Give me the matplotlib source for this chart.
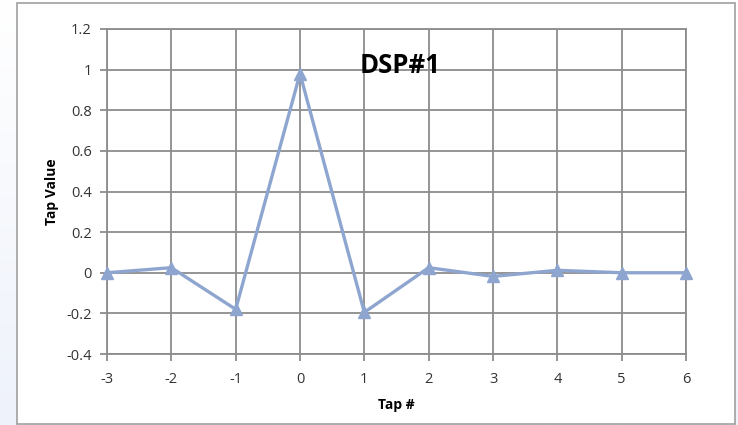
import numpy as np
import matplotlib.pyplot as plt
from matplotlib.patches import Rectangle

taps = [-3, -2, -1, 0, 1, 2, 3, 4, 5, 6]
x_labels = ['-3', '-2', '-1', '0', '1', '2', '3', '4', '5', '6']
tap_values = [0.0, 0.025, -0.18, 0.98, -0.195, 0.025, -0.018, 0.012, 0.0, 0.0]
y_ticks = [-0.4, -0.2, 0, 0.2, 0.4, 0.6, 0.8, 1, 1.2]
y_labels = ['-0.4', '-0.2', '0', '0.2', '0.4', '0.6', '0.8', '1', '1.2']

plt.rcParams['font.family'] = ['Open Sans', 'DejaVu Sans']

fig = plt.figure(figsize=(7.38, 4.25), dpi=100)

# fond dégradé bleuté derrière le cadre
bg = fig.add_axes([0, 0, 1, 1], zorder=-10)
grad = np.linspace(0, 1, 200).reshape(-1, 1)
bg.imshow(grad, aspect='auto', cmap=plt.matplotlib.colors.LinearSegmentedColormap.from_list(
    'bg', ['#ffffff', '#eef2fb']), extent=[0, 1, 0, 1], origin='upper')
bg.set_xlim(0, 1)
bg.set_ylim(0, 1)
bg.axis('off')
bg.add_patch(Rectangle((17 / 738, 1 / 425), 718 / 738, 421 / 425, facecolor='white',
                       edgecolor='#a0a0a0', lw=1.2, transform=bg.transAxes))

ax = fig.add_axes([107 / 738, 1 - 354 / 425, 579 / 738, 325 / 425])
ax.set_facecolor('none')
ax.plot(taps, tap_values, color='#8ea6cf', lw=2.4, marker='^', markersize=8,
        clip_on=False, zorder=3)

ax.set_xlim(-3, 6)
ax.set_ylim(-0.4, 1.2)
ax.set_xticks(taps)
ax.set_xticklabels(x_labels)
ax.set_yticks(y_ticks)
ax.set_yticklabels(y_labels)
ax.grid(True, color='#8c8c8c', lw=1.3)
for s in ax.spines.values():
    s.set_color('#8c8c8c')
    s.set_linewidth(1.3)
ax.tick_params(colors='#8c8c8c', labelcolor='#333333', length=5, width=1.3,
               labelsize=10.5)
ax.tick_params(axis='x', pad=8)
ax.tick_params(axis='y', pad=6)

ax.set_xlabel('Tap #', fontsize=10, fontweight='bold', labelpad=8)
ax.set_ylabel('Tap Value', fontsize=10, fontweight='bold', labelpad=5)
ax.text(1.55, 1.02, 'DSP#1', fontsize=18.5, fontweight='bold', ha='center', va='center')

fig.savefig('out.png', dpi=100)
